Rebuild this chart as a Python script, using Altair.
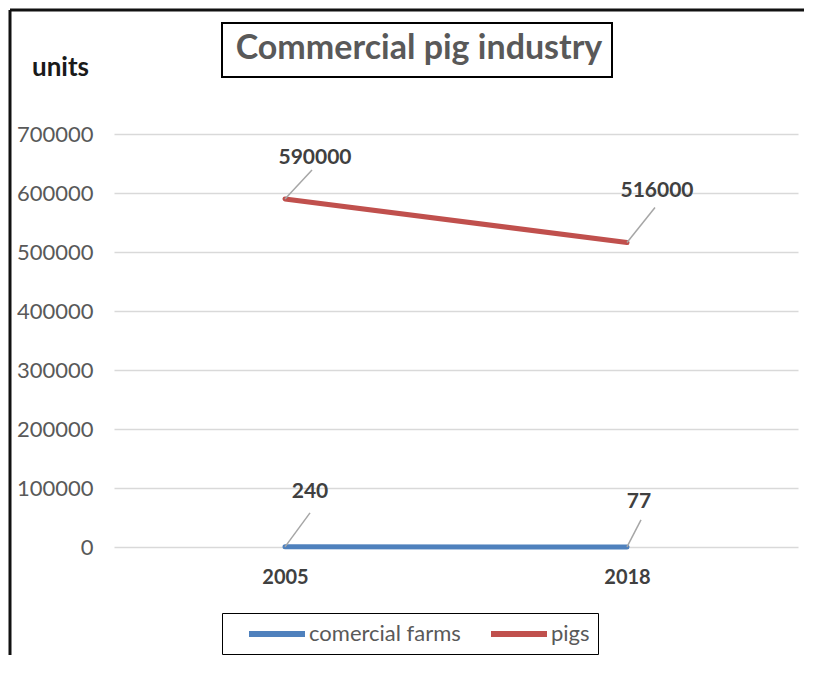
import altair as alt
import pandas as pd

years = ["2005", "2018"]
farms = [240, 77]
pigs = [590000, 516000]
series_names = ["comercial farms", "pigs"]
colors = ["#4F81BD", "#C0504D"]
y_ticks = [0, 100000, 200000, 300000, 400000, 500000, 600000, 700000]

df = pd.DataFrame({
    "year": years + years,
    "series": [series_names[0]] * 2 + [series_names[1]] * 2,
    "value": farms + pigs,
})

FONT = "Lato"
W, H = 684, 413
PAD = {"left": 106, "top": 126, "right": 12, "bottom": 110}

x_enc = alt.X("year:O", scale=alt.Scale(type="point", padding=0.5),
              axis=alt.Axis(title=None, labelAngle=0, labelFont=FONT, labelFontSize=20,
                            labelFontWeight="bold", labelColor="#404040", labelPadding=20,
                            ticks=False, domain=False, grid=False))
y_enc = alt.Y("value:Q", scale=alt.Scale(domain=[0, 700000], nice=False),
              axis=alt.Axis(title=None, values=y_ticks, format="d", labelFont=FONT,
                            labelFontSize=22, labelColor="#595959", labelPadding=21,
                            ticks=False, domain=False, grid=True, gridColor="#d9d9d9",
                            gridWidth=1.5))

lines = alt.Chart(df).mark_line(strokeWidth=5, strokeCap="round").encode(
    x=x_enc, y=y_enc,
    color=alt.Color("series:N",
                    scale=alt.Scale(domain=series_names, range=colors),
                    legend=alt.Legend(title=None, orient="none", legendX=108, legendY=479,
                                      direction="horizontal",
                                      symbolType="M-2.8,0L2.8,0",
                                      symbolStrokeWidth=6, symbolSize=400,
                                      symbolOffset=34, labelFont=FONT, labelFontSize=22,
                                      labelColor="#595959", labelOffset=19,
                                      columnPadding=11, padding=8,
                                      strokeColor="black")),
)


def annot(year, series, dx, dy, lx, ly):
    base = alt.Chart(df).transform_filter(
        (alt.datum.year == year) & (alt.datum.series == series))
    rule = base.mark_rule(color="#a6a6a6", strokeWidth=1.5,
                          x2Offset=lx, y2Offset=ly).encode(
        x="year:O", x2="year", y="value:Q", y2="value")
    txt = base.mark_text(dx=dx, dy=dy, font=FONT, fontSize=21, fontWeight="bold",
                         color="#404040", baseline="middle").encode(
        x="year:O", y="value:Q", text="value:Q")
    return [rule, txt]


annots = []
annots += annot("2005", "pigs", 30, -41, 27, -29)
annots += annot("2018", "pigs", 30, -52, 28, -35)
annots += annot("2005", "comercial farms", 25, -55, 25, -34)
annots += annot("2018", "comercial farms", 12, -45, 14, -27)

one = pd.DataFrame({"a": [0]})

frame_top = alt.Chart(one).mark_rule(color="#111111", strokeWidth=3).encode(
    x=alt.value(-104), x2=alt.value(W + 6), y=alt.value(-124))
frame_left = alt.Chart(one).mark_rule(color="#111111", strokeWidth=3).encode(
    x=alt.value(-104), y=alt.value(-124), y2=alt.value(H + 108))

title_box = alt.Chart(one).mark_rect(fill="white", stroke="black", strokeWidth=2).encode(
    x=alt.value(108), x2=alt.value(498), y=alt.value(-111), y2=alt.value(-57))
title_txt = alt.Chart(one).mark_text(font=FONT, fontSize=34, fontWeight="bold",
                                     color="#595959", baseline="middle").encode(
    x=alt.value(305), y=alt.value(-85), text=alt.value("Commercial pig industry"))
units_txt = alt.Chart(one).mark_text(font=FONT, fontSize=26, fontWeight="bold",
                                     color="#1a1a1a", baseline="middle", align="left").encode(
    x=alt.value(-82), y=alt.value(-66), text=alt.value("units"))

chart = alt.layer(lines, *annots, frame_top, frame_left, title_box, title_txt,
                  units_txt).properties(
    width=W, height=H, padding=PAD, autosize=alt.AutoSizeParams(type="none"),
    background="white",
).configure_view(stroke=None)

chart.save("out.html", embed_options={"renderer": "svg", "actions": False})
